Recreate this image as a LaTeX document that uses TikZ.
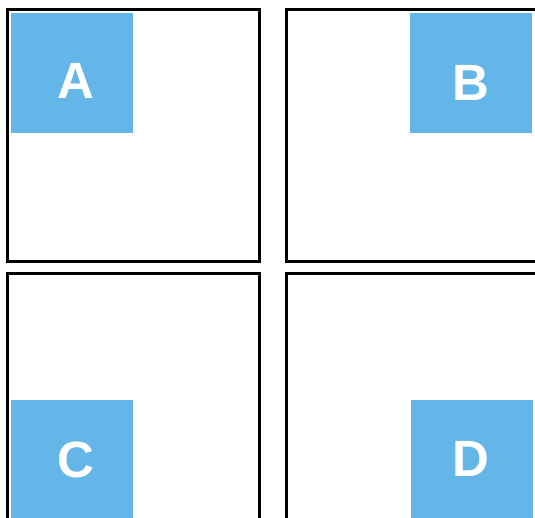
\documentclass[tikz,border=0pt]{standalone}
\usepackage{fontspec}
\setmainfont{Liberation Sans}
\definecolor{tileblue}{RGB}{100,182,232}
\begin{document}
\begin{tikzpicture}[x=1pt, y=-1pt, font=\bfseries\fontsize{51}{51}\selectfont]
        \def\s{252}
        \def\t{122}

        \useasboundingbox (0,0) rectangle (535,517);
        \clip (0,0) rectangle (535,517);

        % frames
        \draw[line width=3pt] (7.5, 9.5) rectangle ++(\s, \s);
        \draw[line width=3pt] (286.5, 9.5) rectangle ++(\s, \s);
        \draw[line width=3pt] (7.5, 273.5) rectangle ++(\s, \s);
        \draw[line width=3pt] (286.5, 273.5) rectangle ++(\s, \s);

        % tiles
        \fill[tileblue] (11, 13) rectangle ++(\t, 120);
        \fill[tileblue] (410, 13) rectangle ++(\t, 120);
        \fill[tileblue] (11, 400) rectangle ++(\t, 120);
        \fill[tileblue] (411, 400) rectangle ++(\t, 120);

        \node[text=white] (a) at (75.5, 80.5) {A};
        \node[text=white] (b) at (471, 82.5) {B};
        \node[text=white] (c) at (75.5, 459.5) {C};
        \node[text=white] (d) at (471, 458.5) {D};
    \end{tikzpicture}
\end{document}
